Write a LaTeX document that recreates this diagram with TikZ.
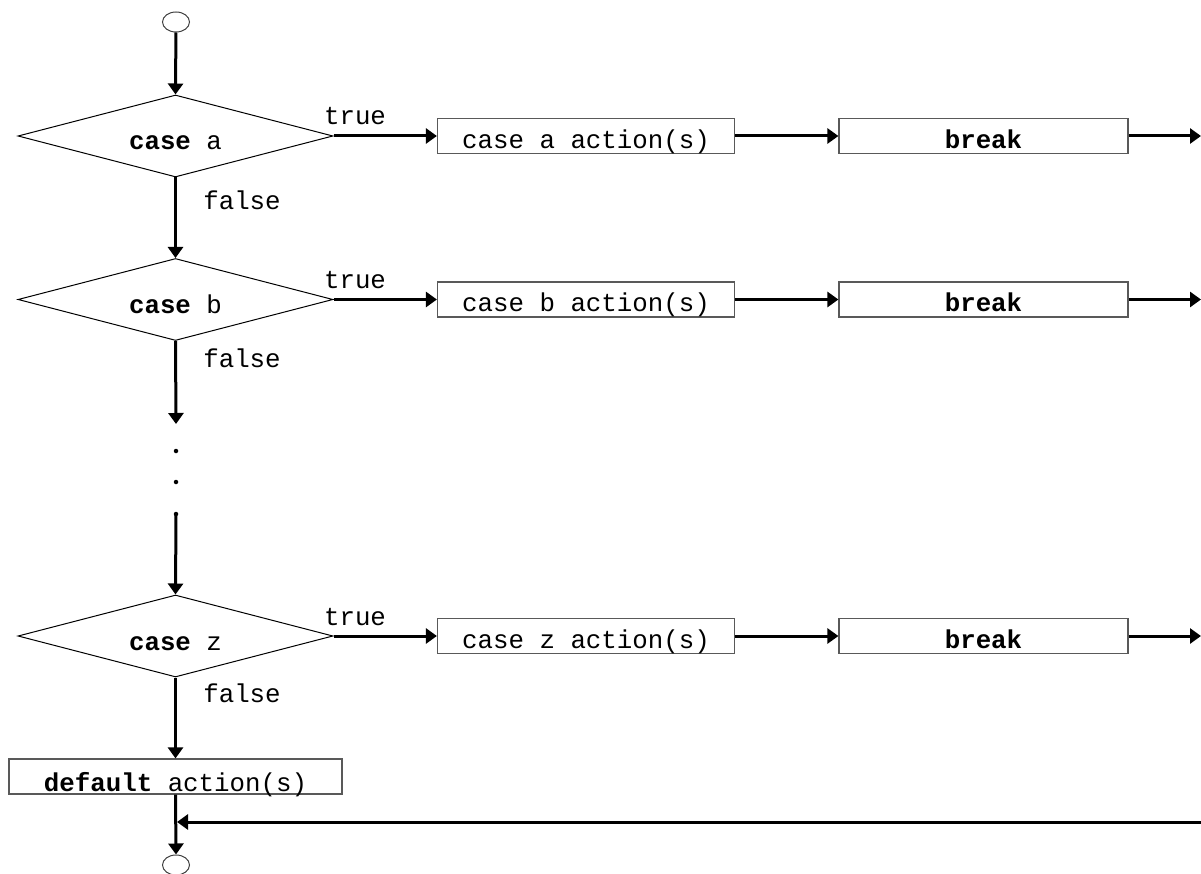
\documentclass[tikz,border=0pt]{standalone}
\usepackage{fontspec}
\setmainfont{Liberation Mono}
\usetikzlibrary{shapes.geometric,arrows.meta,calc}
\newcommand{\dectext}[1]{\raisebox{-14pt}[0pt][0pt]{\makebox[0pt]{#1}}}
\begin{document}
\begin{tikzpicture}[x=1pt,y=-1pt,
  every node/.style={font=\fontsize{25.8}{30}\selectfont},
  flow/.style={line width=3pt,-{Triangle[length=11pt,width=15pt]}},
  dec/.style={diamond,draw,line width=1pt,minimum width=315pt,minimum height=82pt,inner sep=0pt},
  actbox/.style={rectangle,draw=black!65,line width=1.2pt,minimum width=297pt,inner xsep=0pt,inner ysep=3pt,text height=27pt,text depth=2pt},
  brkbox/.style={actbox,minimum width=289pt},
  dfltbox/.style={rectangle,draw=black!65,line width=1.2pt,minimum width=333pt,inner xsep=0pt,inner ysep=2pt,text height=30pt,text depth=1pt},
  term/.style={ellipse,draw=black!75,line width=1pt,minimum width=27pt,minimum height=20pt,inner sep=0pt},
  lbl/.style={inner sep=0pt,anchor=base},
  dotnode/.style={circle,fill,inner sep=0pt,minimum size=4.5pt}
]
\useasboundingbox (0,0) rectangle (1201,874);

\node[term] (start) at (176,22) {};
\node[dec] (ca) at (175.5,136) {\dectext{\textbf{case} a}};
\node[dec] (cb) at (175.5,299.5) {\dectext{\textbf{case} b}};
\node[dec] (cz) at (175.5,636) {\dectext{\textbf{case} z}};

\node[actbox] (aa) at (586,136) {case a action(s)};
\node[actbox] (ab) at (586,299.5) {case b action(s)};
\node[actbox] (az) at (586,636) {case z action(s)};

\node[brkbox] (ba) at (983.5,136) {\textbf{break}};
\node[brkbox] (bb) at (983.5,299.5) {\textbf{break}};
\node[brkbox] (bz) at (983.5,636) {\textbf{break}};

\node[dfltbox] (dflt) at (175.5,776.5) {\textbf{default} action(s)};
\node[term] (end) at (176,865) {};

\coordinate (ea) at (1201,136);
\coordinate (eb) at (1201,299.5);
\coordinate (ez) at (1201,636);
\coordinate (ret) at (1201,822);
\coordinate (gap) at (176,424);
\node[dotnode] (d1) at (176,451) {};
\node[dotnode] (d2) at (176,482) {};
\node[dotnode] (d3) at (176,514) {};

% true / false labels
\node[lbl] (ta) at (355,125) {true};
\node[lbl] (tb) at (355,289) {true};
\node[lbl] (tz) at (355,625) {true};
\node[lbl] (fa) at (242,210) {false};
\node[lbl] (fb) at (242,367) {false};
\node[lbl] (fz) at (242,702) {false};

% vertical flow
\draw[flow] (start) -- (ca.north);
\draw[flow] (ca.south) -- (cb.north);
\draw[flow] (cb.south) -- (gap);
\draw[flow] (d3.center) -- (cz.north);
\draw[flow] (cz.south) -- (dflt.north);
\draw[flow] (dflt.south) -- (end.north);

% horizontal flow
\draw[flow] (ca.east) -- (aa.west);
\draw[flow] (aa.east) -- (ba.west);
\draw[flow] (ba.east) -- (ea);
\draw[flow] (cb.east) -- (ab.west);
\draw[flow] (ab.east) -- (bb.west);
\draw[flow] (bb.east) -- (eb);
\draw[flow] (cz.east) -- (az.west);
\draw[flow] (az.east) -- (bz.west);
\draw[flow] (bz.east) -- (ez);

% return line
\draw[flow,shorten >=1.5pt] (ret) -- (dflt.south |- ret);
\end{tikzpicture}
\end{document}
